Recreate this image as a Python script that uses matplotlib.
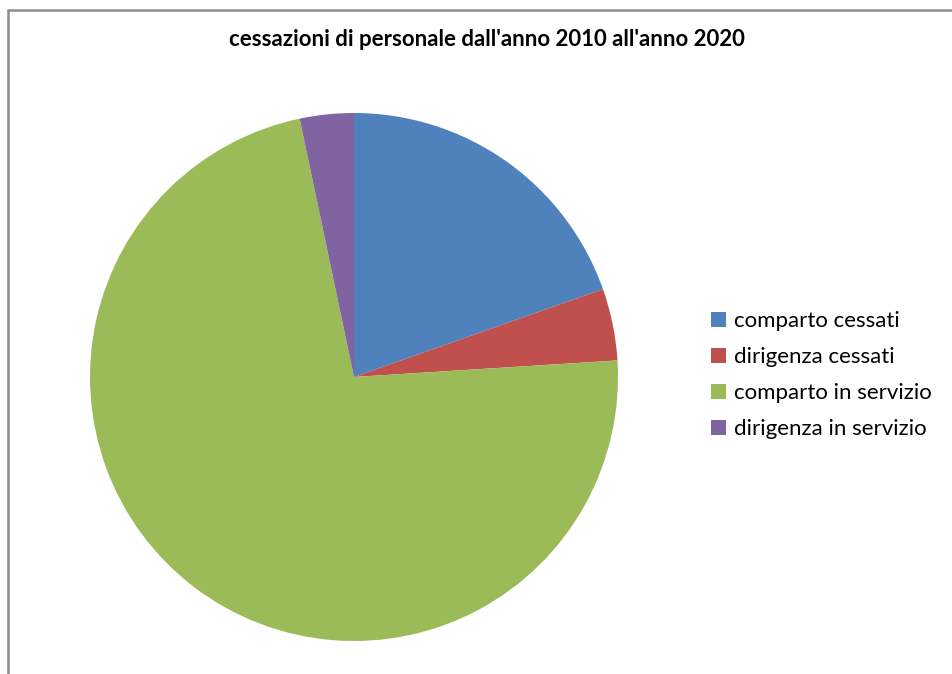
import matplotlib
matplotlib.use('Agg')
import matplotlib.pyplot as plt
from matplotlib.patches import Rectangle, Patch

plt.rcParams['font.family'] = ['Lato', 'DejaVu Sans']

# dati (quote in percentuale)
categorie = ['comparto cessati', 'dirigenza cessati', 'comparto in servizio', 'dirigenza in servizio']
valori = [19.6, 4.4, 72.7, 3.3]
colori = ['#4F81BD', '#C0504D', '#9BBB59', '#8064A2']

fig = plt.figure(figsize=(9.52, 6.74), dpi=100)

# cornice del grafico
fig.patches.append(Rectangle((8 / 952, -0.1), 1.2, 1.1 - 10 / 674,
                             transform=fig.transFigure, fill=False,
                             edgecolor='#8c8c8c', linewidth=1.8))

ax = fig.add_axes([90 / 952, 33 / 674, 528 / 952, 528 / 674])
ax.pie(valori, colors=colori, startangle=90, counterclock=False, radius=1,
       wedgeprops=dict(linewidth=0))
ax.set_xlim(-1, 1)
ax.set_ylim(-1, 1)
ax.set_aspect('equal')
ax.axis('off')

fig.text(487 / 952, 1 - 40 / 674, "cessazioni di personale dall'anno 2010 all'anno 2020",
         ha='center', va='center', fontsize=16, fontweight='bold')

maniglie = [Patch(facecolor=c, edgecolor='none') for c in colori]
fig.legend(maniglie, categorie, loc='center left', bbox_to_anchor=(700 / 952, 1 - 375 / 674),
           frameon=False, fontsize=16, handlelength=0.65, handleheight=0.65,
           handletextpad=0.36, labelspacing=0.72, borderpad=0)

fig.savefig('out.png', dpi=100)
